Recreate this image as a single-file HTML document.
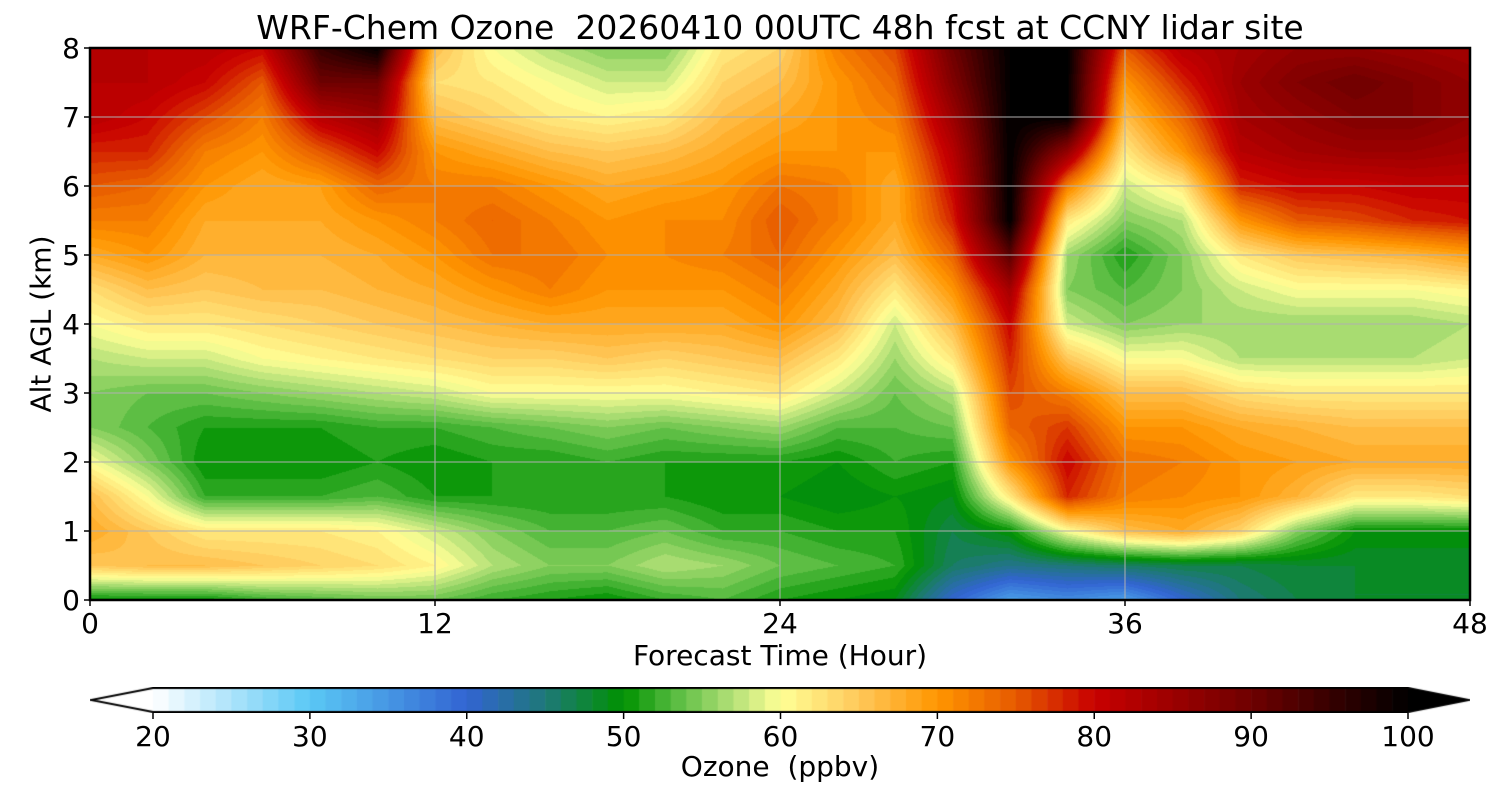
<!DOCTYPE html>
<html><head><meta charset="utf-8">
<style>
html,body{margin:0;padding:0;background:#fff;}
body{width:1500px;height:800px;position:relative;overflow:hidden;font-family:"DejaVu Sans","Liberation Sans",sans-serif;}
.t{position:absolute;white-space:nowrap;color:#000;}
canvas{position:absolute;}
svg text{font-family:"DejaVu Sans","Liberation Sans",sans-serif;}
</style></head>
<body>
<div class="t" style="left:0;width:1560px;top:8px;text-align:center;font-size:33px;">WRF-Chem Ozone&nbsp; 20260410 00UTC 48h fcst at CCNY lidar site</div>
<canvas id="plot" width="1380" height="552" style="left:90px;top:48px;"></canvas>
<svg id="ov" width="1500" height="800" style="position:absolute;left:0;top:0;"></svg>
<canvas id="cb" width="1380" height="26" style="left:90px;top:687px;"></canvas>
<div class="t" style="left:0;width:1560px;top:639px;text-align:center;font-size:28px;">Forecast Time (Hour)</div>
<div class="t" style="left:41px;top:324px;font-size:28px;transform:translate(-50%,-50%) rotate(-90deg);">Alt AGL (km)</div>
<div class="t" style="left:0;width:1560px;top:750px;text-align:center;font-size:28px;">Ozone&nbsp; (ppbv)</div>
<script>
// Data: ozone (ppbv), rows = altitude, columns = forecast hour
const hours=[0,2,4,6,8,10,12,14,16,18,20,22,24,26,28,30,32,34,36,38,40,42,44,46,48];
const alts=[0,0.5,1,1.5,2,2.5,3,3.5,4,4.5,5,5.5,6,6.5,7,7.5,8];
const col0=[50,65,68,66,60,55,55,57,60,63,68,72,75,78,82,82,82];
const col2=[50,66,65,60,55,53,54,58,62,66,70,72,74,78,80,82,82];
const col4=[50,66,62,52,50,51,54,58,62,65,67,68,70,72,76,80,82];
const col6=[52,65,62,52,50,51,55,60,63,66,67,68,68,70,72,75,80];
const col8=[53,64,62,52,50,51,56,61,64,66,67,68,69,75,82,90,95];
const col10=[54,63,61,53,51,52,57,62,65,67,68,70,74,80,85,90,100];
const col12=[54,61,58,51,50,52,58,63,66,68,70,72,72,70,66,63,66];
const col14=[52,57,55,51,51,53,60,64,67,70,73,74,72,68,64,62,60];
const col16=[51,55,53,51,51,54,60,64,68,72,73,72,70,66,62,60,57];
const col18=[50,55,53,51,52,55,60,65,68,70,71,70,68,65,61,58,55];
const col20=[52,57,54,51,51,54,60,64,68,70,71,71,69,66,62,58,55];
const col22=[53,56,52,50,51,55,61,65,68,70,72,71,70,68,66,64,62];
const col24=[51,54,52,50,51,56,62,66,70,72,74,75,73,70,68,66,64];
const col26=[50,53,51,49,50,53,58,62,66,68,70,72,72,70,70,70,72];
const col28=[49,52,51,50,52,53,54,56,58,62,66,68,68,70,72,74,76];
const col30=[40,46,47,49,51,54,57,62,66,70,74,78,80,82,85,88,90];
const col32=[34,44,50,62,70,74,76,78,80,84,92,100,100,100,100,100,100];
const col34=[36,45,60,78,80,77,72,65,58,55,56,62,72,86,100,100,100];
const col36=[34,46,66,72,73,70,66,60,55,53,51,55,58,62,66,70,75];
const col38=[40,47,68,71,72,70,66,60,56,55,55,57,62,70,74,78,82];
const col40=[45,47,64,70,70,68,63,57,56,58,62,70,78,82,84,85,84];
const col42=[47,48,55,67,69,67,62,57,56,60,65,75,80,84,86,88,86];
const col44=[48,48,50,62,68,66,62,57,56,60,66,76,80,85,88,90,86];
const col46=[48,48,50,62,68,66,62,57,56,60,67,78,81,85,88,88,85];
const col48=[48,48,50,63,68,66,62,58,57,61,69,79,81,84,86,86,84];
const cols=[col0,col2,col4,col6,col8,col10,col12,col14,col16,col18,col20,col22,col24,col26,col28,col30,col32,col34,col36,col38,col40,col42,col44,col46,col48];
const xTicks=[0,12,24,36,48];
const yTicks=[0,1,2,3,4,5,6,7,8];
const cbTicks=[20,30,40,50,60,70,80,90,100];

const stops=[[20,[255,255,255]],[30,[90,200,245]],[40,[50,100,210]],[45,[30,120,120]],[50,[0,145,0]],[53,[80,185,60]],[57,[180,225,120]],[60,[255,255,150]],[65,[255,200,90]],[70,[255,150,0]],[75,[230,90,0]],[80,[200,0,0]],[90,[110,0,0]],[100,[0,0,0]]];
function cmap(v){
  v=Math.max(20,Math.min(100,v));
  for(let i=0;i<stops.length-1;i++){
    const a=stops[i],b=stops[i+1];
    if(v<=b[0]){const f=(v-a[0])/(b[0]-a[0]);return a[1].map((c,k)=>Math.round(c+(b[1][k]-c)*f));}
  }
  return stops[stops.length-1][1];
}
const X0=90,X1=1470,Y0=600,Y1=48;
const xs=h=>X0+(h-0)/(48-0)*(X1-X0);
const ys=a=>Y0-(a-0)/(8-0)*(Y0-Y1);
function val(h,a){
  let i=Math.min(hours.length-2,Math.max(0,Math.floor(h/2)));
  let j=Math.min(alts.length-2,Math.max(0,Math.floor(a/0.5)));
  const fx=(h-hours[i])/(hours[i+1]-hours[i]), fy=(a-alts[j])/(alts[j+1]-alts[j]);
  const v00=cols[i][j],v10=cols[i+1][j],v01=cols[i][j+1],v11=cols[i+1][j+1];
  return (v00*(1-fx)+v10*fx)*(1-fy)+(v01*(1-fx)+v11*fx)*fy;
}
const pc=document.getElementById('plot'),ctx=pc.getContext('2d');
const W=pc.width,H=pc.height,img=ctx.createImageData(W,H);
for(let py=0;py<H;py++){
  const a=(Y0-(Y1+py+0.5))/(Y0-Y1)*8;
  for(let px=0;px<W;px++){
    const h=(px+0.5)/(X1-X0)*48;
    let v=Math.floor(val(h,a))+0.5;
    const c=cmap(v),k=(py*W+px)*4;
    img.data[k]=c[0];img.data[k+1]=c[1];img.data[k+2]=c[2];img.data[k+3]=255;
  }
}
ctx.putImageData(img,0,0);
// colorbar
const cb=document.getElementById('cb'),cx=cb.getContext('2d');
const cbx=v=>63+(v-20)/80*1255;
for(let v=20;v<100;v++){const c=cmap(v+0.5);cx.fillStyle=`rgb(${c})`;cx.fillRect(cbx(v),1,cbx(v+1)-cbx(v)+0.6,24);}
cx.fillStyle=`rgb(${cmap(20)})`;cx.beginPath();cx.moveTo(63,1);cx.lineTo(0,13);cx.lineTo(63,25);cx.fill();
cx.fillStyle='#000';cx.beginPath();cx.moveTo(cbx(100),1);cx.lineTo(1380,13);cx.lineTo(cbx(100),25);cx.fill();
cx.strokeStyle='#000';cx.lineWidth=2;cx.beginPath();cx.moveTo(63,1);cx.lineTo(cbx(100),1);cx.lineTo(1379,13);cx.lineTo(cbx(100),25);cx.lineTo(63,25);cx.lineTo(1,13);cx.closePath();cx.stroke();

const svg=document.getElementById('ov'),NS='http://www.w3.org/2000/svg';
function mk(t,at){const e=document.createElementNS(NS,t);for(const k in at)e.setAttribute(k,at[k]);svg.appendChild(e);return e;}
yTicks.forEach(a=>{
  const g=mk('line',{x1:X0,x2:X1,y1:ys(a),y2:ys(a),stroke:'#b0b0b0','stroke-width':1});
  
  
  const tk=mk('line',{x1:X0-6,x2:X0,y1:ys(a),y2:ys(a),stroke:'#000','stroke-width':1.5});
  
  
  const t=mk('text',{x:X0-10,y:ys(a)+10,'text-anchor':'end','font-size':28});
  t.textContent=a;
  
  
});
xTicks.forEach(h=>{
  const g=mk('line',{x1:xs(h),x2:xs(h),y1:Y1,y2:Y0,stroke:'#b0b0b0','stroke-width':1});
  
  
  const tk=mk('line',{x1:xs(h),x2:xs(h),y1:Y0,y2:Y0+6,stroke:'#000','stroke-width':1.5});
  
  
  const t=mk('text',{x:xs(h),y:Y0+33,'text-anchor':'middle','font-size':28});
  t.textContent=h;
  
  
});
const fr=mk('rect',{x:X0,y:Y1,width:X1-X0,height:Y0-Y1,fill:'none',stroke:'#000','stroke-width':2.5});


cbTicks.forEach(v=>{
  const x=90+cbx(v);
  const tk=mk('line',{x1:x,x2:x,y1:713,y2:719,stroke:'#000','stroke-width':1.5});
  
  
  const t=mk('text',{x:x,y:746,'text-anchor':'middle','font-size':28});
  t.textContent=v;
  
  
});
</script>
</body></html>
